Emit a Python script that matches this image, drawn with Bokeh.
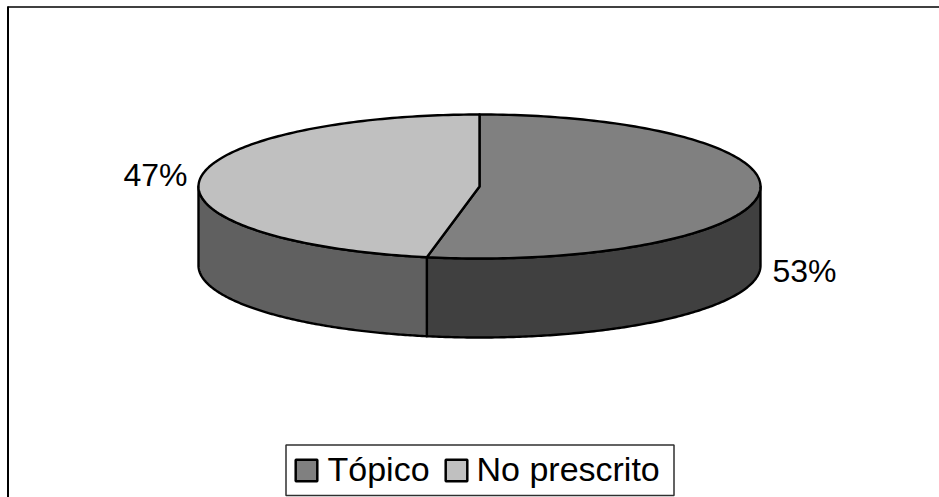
import numpy as np
from bokeh.core.properties import value
from bokeh.embed import file_html
from bokeh.models import Range1d
from bokeh.plotting import figure
from bokeh.resources import INLINE

# Share of each category, clockwise from twelve o'clock
categories = ["Tópico", "No prescrito"]
shares = [53, 47]
top_colors = ["#808080", "#c0c0c0"]
wall_colors = ["#404040", "#606060"]

# Disc geometry in page pixels
CX, CY = 479.0, 186.0
RX, RY = 281.0, 72.0
DEPTH = 79.0
INK = "#000000"
FONT = "Liberation Sans"

W, H = 939, 497
p = figure(
    width=W, height=H, output_backend="svg", toolbar_location=None,
    x_range=Range1d(0, W), y_range=Range1d(H, 0),
    x_axis_type=None, y_axis_type=None, min_border=0,
    outline_line_color=None, background_fill_color="white",
)
p.grid.visible = False


def rim(a0, a1, n=160, dy=0.0):
    """Points along the ellipse between two clockwise angles in degrees."""
    t = np.radians(np.linspace(a0, a1, n))
    return CX + RX * np.sin(t), CY - RY * np.cos(t) + dy


# Slice boundaries as clockwise angles
edges = np.concatenate([[0], np.cumsum(shares)]) * 360.0 / sum(shares)

# Frame: only the top and left rules are present
p.line([7, W], [6.5, 6.5], line_color="#404040", line_width=2)
p.line([7.5, 7.5], [6, H], line_color=INK, line_width=2)

# Outer wall of the disc, only its front half shows
for i in range(len(shares)):
    a0, a1 = max(edges[i], 90.0), min(edges[i + 1], 270.0)
    xs, ys = rim(a0, a1)
    xb, yb = rim(a1, a0, dy=DEPTH)
    p.patch(np.concatenate([xs, xb]), np.concatenate([ys, yb]),
            fill_color=wall_colors[i], line_color=INK, line_width=2.4,
            line_join="round")

# Top surface of the disc
for i in range(len(shares)):
    xs, ys = rim(edges[i], edges[i + 1])
    p.patch(np.concatenate([[CX], xs]), np.concatenate([[CY], ys]),
            fill_color=top_colors[i], line_color=INK, line_width=2.4,
            line_join="round")

# The renderer draws alphabetic text lower than its anchor by about this share of the size
BASELINE_SHIFT = 0.41


def label(x, y, text, size):
    p.text([x], [y - BASELINE_SHIFT * size], text=[text],
           text_font=value(FONT), text_font_size=f"{size}px", text_color=INK,
           text_align="left", text_baseline="alphabetic")


# Percentage labels beside their slices
label_x = [772, 123]
label_y = [283.5, 187.5]
for x, y, s in zip(label_x, label_y, shares):
    label(x, y, f"{s}%", 32)

# Legend box with its swatches and names
p.quad(left=[285.5], right=[673.5], top=[444.5], bottom=[495],
       fill_color="white", line_color="#303030", line_width=1.5)
swatch_x = [295.2, 445.2]
name_x = [327, 476]
for i, c in enumerate(categories):
    p.quad(left=[swatch_x[i]], right=[swatch_x[i] + 21.6], top=[459.2], bottom=[480.8],
           fill_color=top_colors[i], line_color=INK, line_width=2.5)
    label(name_x[i], 482, c, 34)

open("out.html", "w").write(file_html(p, INLINE))
